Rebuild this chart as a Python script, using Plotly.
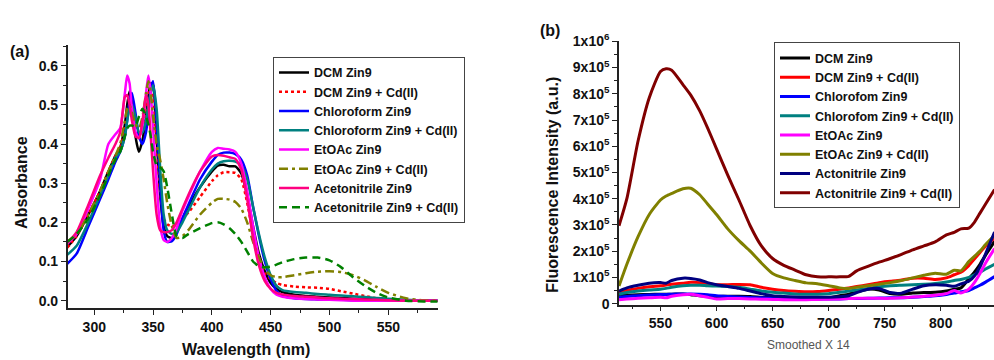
import plotly.graph_objects as go

# ---------------- (a) UV-Vis absorbance ----------------
wavelength_abs = [277, 285, 295, 305, 312, 318, 322, 326, 328, 330, 332, 335, 338, 341, 344, 346,
                  348, 350, 353, 356, 359, 362, 366, 370, 375, 380, 390, 400, 405, 410, 415, 420,
                  425, 430, 435, 440, 445, 450, 455, 460, 470, 480, 490, 500, 510, 520, 530, 540,
                  550, 565, 580, 592]

abs_dcm = [0.137, 0.165, 0.22, 0.28, 0.33, 0.37, 0.39, 0.45, 0.50, 0.535, 0.51, 0.42, 0.38, 0.41,
           0.47, 0.52, 0.555, 0.55, 0.42, 0.27, 0.19, 0.165, 0.16, 0.175, 0.21, 0.24, 0.29, 0.33,
           0.345, 0.347, 0.343, 0.343, 0.325, 0.27, 0.19, 0.12, 0.075, 0.045, 0.03, 0.022, 0.015,
           0.012, 0.01, 0.008, 0.007, 0.005, 0.004, 0.003, 0.002, 0.001, 0.0, 0.0]
abs_dcm_cd = [0.135, 0.165, 0.22, 0.28, 0.33, 0.37, 0.39, 0.44, 0.48, 0.50, 0.49, 0.44, 0.42, 0.44,
              0.49, 0.53, 0.55, 0.52, 0.40, 0.28, 0.21, 0.195, 0.19, 0.195, 0.21, 0.225, 0.265,
              0.305, 0.32, 0.328, 0.328, 0.326, 0.31, 0.25, 0.17, 0.11, 0.07, 0.055, 0.045, 0.04,
              0.036, 0.034, 0.033, 0.03, 0.024, 0.018, 0.012, 0.006, 0.003, 0.0, 0.0, 0.0]
abs_chl = [0.094, 0.12, 0.19, 0.26, 0.31, 0.355, 0.38, 0.42, 0.46, 0.51, 0.53, 0.48, 0.42, 0.40,
           0.43, 0.48, 0.54, 0.56, 0.46, 0.30, 0.18, 0.15, 0.152, 0.17, 0.21, 0.245, 0.31, 0.355,
           0.372, 0.378, 0.378, 0.374, 0.36, 0.32, 0.24, 0.165, 0.10, 0.055, 0.025, 0.012, 0.006,
           0.004, 0.003, 0.002, 0.002, 0.001, 0.001, 0.0, 0.0, 0.0, 0.0, 0.0]
abs_chl_cd = [0.117, 0.14, 0.20, 0.27, 0.32, 0.365, 0.38, 0.42, 0.46, 0.49, 0.50, 0.47, 0.43, 0.43,
              0.46, 0.50, 0.53, 0.55, 0.49, 0.34, 0.22, 0.18, 0.17, 0.175, 0.20, 0.23, 0.29, 0.335,
              0.35, 0.356, 0.357, 0.355, 0.345, 0.31, 0.24, 0.17, 0.11, 0.065, 0.038, 0.027, 0.022,
              0.02, 0.017, 0.015, 0.013, 0.011, 0.009, 0.007, 0.005, 0.002, 0.0, 0.0]
abs_etoac = [0.145, 0.17, 0.235, 0.31, 0.40, 0.425, 0.44, 0.53, 0.575, 0.555, 0.49, 0.43, 0.415,
             0.45, 0.53, 0.575, 0.53, 0.44, 0.30, 0.19, 0.155, 0.15, 0.16, 0.185, 0.23, 0.265, 0.33,
             0.38, 0.39, 0.388, 0.386, 0.38, 0.35, 0.28, 0.19, 0.11, 0.06, 0.03, 0.015, 0.01,
             0.006, 0.004, 0.003, 0.002, 0.001, 0.0, 0.0, 0.0, 0.0, 0.0, 0.0, 0.0]
abs_etoac_cd = [0.151, 0.17, 0.22, 0.28, 0.33, 0.37, 0.40, 0.46, 0.49, 0.50, 0.48, 0.45, 0.44, 0.47,
                0.53, 0.56, 0.53, 0.47, 0.40, 0.36, 0.31, 0.25, 0.19, 0.16, 0.165, 0.18, 0.22, 0.25,
                0.26, 0.26, 0.258, 0.252, 0.235, 0.20, 0.15, 0.11, 0.08, 0.065, 0.06, 0.06, 0.065,
                0.07, 0.074, 0.075, 0.073, 0.065, 0.052, 0.035, 0.02, 0.006, 0.001, 0.0]
abs_acn = [0.147, 0.175, 0.245, 0.32, 0.365, 0.40, 0.43, 0.52, 0.525, 0.50, 0.46, 0.42, 0.415,
           0.46, 0.525, 0.50, 0.42, 0.33, 0.22, 0.18, 0.175, 0.175, 0.18, 0.20, 0.235, 0.27, 0.33,
           0.368, 0.372, 0.37, 0.366, 0.362, 0.335, 0.26, 0.16, 0.09, 0.05, 0.03, 0.02, 0.016,
           0.012, 0.01, 0.008, 0.006, 0.005, 0.004, 0.003, 0.002, 0.001, 0.0, 0.0, 0.0]
abs_acn_cd = [0.15, 0.17, 0.21, 0.27, 0.32, 0.36, 0.38, 0.42, 0.44, 0.447, 0.447, 0.445, 0.47, 0.49,
              0.47, 0.45, 0.42, 0.38, 0.345, 0.34, 0.33, 0.29, 0.22, 0.165, 0.16, 0.17, 0.185,
              0.198, 0.20, 0.195, 0.185, 0.17, 0.15, 0.125, 0.10, 0.088, 0.085, 0.087, 0.092,
              0.098, 0.106, 0.11, 0.11, 0.103, 0.085, 0.06, 0.038, 0.02, 0.008, 0.0, -0.002, -0.002]

abs_names = ["DCM Zin9", "DCM Zin9 + Cd(II)", "Chloroform Zin9", "Chloroform Zin9 + Cd(II)",
             "EtOAc Zin9", "EtOAc Zin9 + Cd(II)", "Acetonitrile Zin9", "Acetonitrile Zin9 + Cd(II)"]
abs_series = [abs_dcm, abs_dcm_cd, abs_chl, abs_chl_cd, abs_etoac, abs_etoac_cd, abs_acn, abs_acn_cd]
abs_colors = ["#000000", "#ff0000", "#0000ff", "#008080", "#ff00ff", "#808000", "#ff0080", "#008000"]
abs_dashes = ["solid", "3px,3px", "solid", "solid", "solid", "9px,4px,3px,4px", "solid", "8px,5px"]

# ---------------- (b) fluorescence emission ----------------
wavelength_em = [513, 520, 530, 540, 550, 555, 560, 570, 577, 585, 592, 600, 610, 620, 630, 640,
                 650, 660, 670, 680, 690, 700, 710, 718, 725, 735, 745, 755, 765, 775, 785, 795,
                 805, 812, 818, 825, 830, 835, 840, 848]

# intensities in units of 1x10^5
em_dcm = [0.3, 0.32, 0.34, 0.35, 0.36, 0.36, 0.36, 0.37, 0.34, 0.3, 0.28, 0.27, 0.28, 0.28, 0.27,
          0.24, 0.22, 0.2, 0.19, 0.18, 0.18, 0.22, 0.3, 0.36, 0.45, 0.55, 0.52, 0.38, 0.36, 0.4,
          0.42, 0.43, 0.48, 0.55, 0.6, 0.95, 1.2, 1.5, 1.85, 2.37]
em_dcm_cd = [0.42, 0.5, 0.58, 0.64, 0.68, 0.71, 0.74, 0.78, 0.81, 0.8, 0.76, 0.72, 0.72, 0.73, 0.72,
             0.62, 0.55, 0.5, 0.47, 0.45, 0.46, 0.5, 0.55, 0.6, 0.65, 0.72, 0.8, 0.85, 0.9, 0.97,
             0.97, 0.92, 0.98, 1.1, 1.2, 1.45, 1.7, 1.95, 2.2, 2.5]
em_chl = [0.24, 0.27, 0.3, 0.33, 0.35, 0.35, 0.36, 0.37, 0.37, 0.36, 0.34, 0.3, 0.27, 0.25, 0.23,
          0.22, 0.21, 0.2, 0.19, 0.18, 0.18, 0.18, 0.18, 0.19, 0.19, 0.2, 0.21, 0.22, 0.22, 0.24,
          0.27, 0.3, 0.35, 0.4, 0.45, 0.5, 0.6, 0.7, 0.82, 1.03]
em_chl_cd = [0.36, 0.42, 0.48, 0.52, 0.55, 0.58, 0.62, 0.68, 0.7, 0.7, 0.68, 0.67, 0.65, 0.62, 0.55,
             0.48, 0.43, 0.4, 0.37, 0.36, 0.36, 0.38, 0.43, 0.48, 0.52, 0.58, 0.64, 0.68, 0.7,
             0.72, 0.74, 0.77, 0.82, 0.88, 0.92, 1.0, 1.1, 1.2, 1.32, 1.5]
em_etoac = [0.15, 0.18, 0.2, 0.22, 0.24, 0.22, 0.28, 0.34, 0.36, 0.3, 0.24, 0.18, 0.19, 0.19, 0.18,
            0.17, 0.16, 0.15, 0.15, 0.15, 0.16, 0.17, 0.18, 0.19, 0.2, 0.2, 0.2, 0.2, 0.22, 0.25,
            0.28, 0.32, 0.38, 0.5, 0.4, 0.55, 0.8, 1.15, 1.55, 2.1]
em_etoac_cd = [0.67, 1.5, 2.55, 3.4, 3.95, 4.1, 4.2, 4.38, 4.4, 4.15, 3.8, 3.4, 2.85, 2.4, 2.0,
               1.55, 1.15, 0.98, 0.88, 0.79, 0.76, 0.68, 0.6, 0.58, 0.62, 0.68, 0.74, 0.8, 0.88,
               0.98, 1.08, 1.16, 1.12, 1.27, 1.25, 1.6, 1.8, 2.0, 2.25, 2.6]
em_acn = [0.48, 0.6, 0.7, 0.78, 0.8, 0.78, 0.88, 0.97, 0.96, 0.9, 0.8, 0.72, 0.65, 0.58, 0.48, 0.38,
          0.3, 0.27, 0.25, 0.24, 0.24, 0.24, 0.26, 0.3, 0.42, 0.55, 0.58, 0.42, 0.4, 0.55, 0.68,
          0.72, 0.7, 0.66, 0.75, 0.85, 1.05, 1.4, 1.9, 2.73]
em_acn_cd = [2.97, 4.0, 6.2, 7.85, 8.85, 8.95, 8.9, 8.35, 7.95, 7.35, 6.7, 5.9, 4.9, 3.95, 2.97,
             2.2, 1.72, 1.46, 1.28, 1.1, 1.02, 1.02, 1.02, 1.04, 1.25, 1.42, 1.58, 1.72, 1.88, 2.05,
             2.2, 2.35, 2.62, 2.72, 2.85, 2.88, 3.1, 3.45, 3.8, 4.35]

em_names = ["DCM Zin9", "DCM Zin9 + Cd(II)", "Chlorofom Zin9", "Chlorofom Zin9 + Cd(II)",
            "EtOAc Zin9", "EtOAc Zin9 + Cd(II)", "Actonitrile Zin9", "Actonitrile Zin9 + Cd(II)"]
em_series = [em_dcm, em_dcm_cd, em_chl, em_chl_cd, em_etoac, em_etoac_cd, em_acn, em_acn_cd]
em_colors = ["#000000", "#ff0000", "#0000ff", "#008080", "#ff00ff", "#808000", "#000080", "#800000"]

em_tick_vals = [0, 1, 2, 3, 4, 5, 6, 7, 8, 9, 10]
em_tick_text = ["0", "1x10<sup>5</sup>", "2x10<sup>5</sup>", "3x10<sup>5</sup>", "4x10<sup>5</sup>",
                "5x10<sup>5</sup>", "6x10<sup>5</sup>", "7x10<sup>5</sup>", "8x10<sup>5</sup>",
                "9x10<sup>5</sup>", "1x10<sup>6</sup>"]

FONT = "Liberation Sans, Arial, sans-serif"
W, H = 994, 360

fig = go.Figure()

for name, ys, col, dash in zip(abs_names, abs_series, abs_colors, abs_dashes):
    fig.add_trace(go.Scatter(
        x=wavelength_abs, y=ys, name=name, mode="lines",
        line=dict(color=col, width=2.5, dash=dash, shape="spline", smoothing=0.6),
        xaxis="x", yaxis="y", legend="legend"))

for name, ys, col in zip(em_names, em_series, em_colors):
    fig.add_trace(go.Scatter(
        x=wavelength_em, y=ys, name=name, mode="lines",
        line=dict(color=col, width=3, shape="spline", smoothing=0.6),
        xaxis="x2", yaxis="y2", legend="legend2"))

axis_common = dict(
    showline=True, linecolor="#222", linewidth=1.5, mirror=False,
    ticks="outside", ticklen=5, tickwidth=1.2, tickcolor="#222",
    showgrid=False, zeroline=False,
    tickfont=dict(family=FONT, size=14, color="#111", weight="bold"),
)

legend_common = dict(
    xanchor="left", yanchor="top",
    bgcolor="white", bordercolor="#444", borderwidth=1,
    font=dict(family=FONT, size=12.5, color="#111", weight="bold"),
    itemwidth=30, tracegroupgap=0,
)

fig.update_layout(
    width=W, height=H,
    margin=dict(l=0, r=0, t=0, b=0),
    paper_bgcolor="white", plot_bgcolor="white",
    showlegend=True,
    xaxis=dict(domain=[67.7 / W, 437.7 / W], range=[277.4, 592], anchor="y",
               tickvals=[300, 350, 400, 450, 500, 550],
               minor=dict(dtick=25, tick0=275, ticks="outside", ticklen=3, tickcolor="#222"),
               **axis_common),
    yaxis=dict(domain=[(H - 313) / H, (H - 38) / H], range=[-0.019, 0.652], anchor="x",
               tickvals=[0.0, 0.1, 0.2, 0.3, 0.4, 0.5, 0.6], tickformat=".1f",
               minor=dict(dtick=0.05, tick0=0, ticks="outside", ticklen=3, tickcolor="#222"),
               **axis_common),
    xaxis2=dict(domain=[619 / W, 1.0], range=[513, 847.5], anchor="y2",
                tickvals=[550, 600, 650, 700, 750, 800],
                minor=dict(dtick=25, tick0=525, ticks="outside", ticklen=3, tickcolor="#222"),
                **axis_common),
    yaxis2=dict(domain=[(H - 309.3) / H, (H - 33) / H], range=[-0.036, 10.03], anchor="x2",
                tickvals=em_tick_vals, ticktext=em_tick_text,
                minor=dict(dtick=0.5, tick0=0, ticks="outside", ticklen=3, tickcolor="#222"),
                **axis_common),
    legend=dict(x=273 / W, y=(H - 50) / H, **legend_common),
    legend2=dict(x=774 / W, y=(H - 35) / H, **legend_common),
)

def label(text, x, y, size=16, angle=0, bold=True, color="#111"):
    fig.add_annotation(text=text, x=x / W, y=(H - y) / H, xref="paper", yref="paper",
                       showarrow=False, textangle=angle, xanchor="center", yanchor="middle",
                       font=dict(family=FONT, size=size, color=color,
                                 weight="bold" if bold else "normal"))

label("(a)", 20, 44)
label("(b)", 550, 22)
label("Absorbance", 22, 182, angle=-90)
label("Wavelength (nm)", 246, 356)
label("Fluorescence Intensity (a.u.)", 553, 184, angle=-90)
label("Smoothed X 14", 808, 352, size=12, bold=False, color="#555")

fig.write_html("out.html")
